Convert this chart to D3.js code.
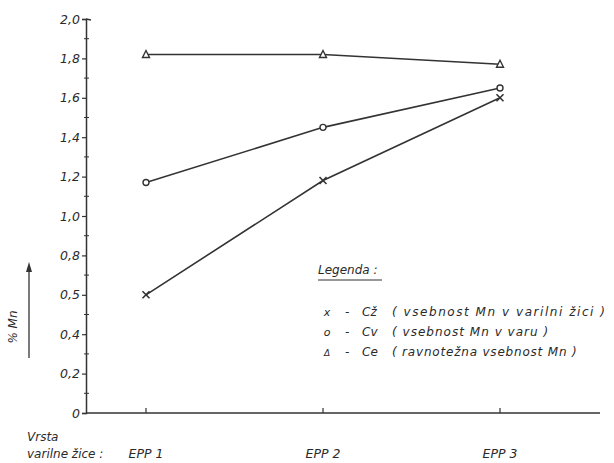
<!DOCTYPE html>
<html><head><meta charset="utf-8">
<script src="https://cdn.jsdelivr.net/npm/d3@7"></script>
<style>body{margin:0;background:#fff}svg text{font-family:"DejaVu Sans",sans-serif;font-style:italic;fill:#2a2a2a}</style>
</head><body><svg id="c" width="614" height="463"></svg>
<script>
const categories = ["EPP1","EPP2","EPP3"];
const categoryLabels = ["EPP 1","EPP 2","EPP 3"];
const cz = [0.60, 1.18, 1.60];
const cv = [1.17, 1.45, 1.65];
const ce = [1.82, 1.82, 1.77];
const yTicks = [0,0.2,0.4,0.6,0.8,1.0,1.2,1.4,1.6,1.8,2.0];
const yTickLabels = ["0","0,2","0,4","0,5","0,8","1,0","1,2","1,4","1,6","1,8","2,0"];

const svg = d3.select("#c");
const col = "#333";
const x = d3.scalePoint().domain(categories).range([146,500]);
const y = d3.scaleLinear().domain([0,2]).range([413,19]);

// y axis
const yAxis = d3.axisLeft(y).tickValues(yTicks).tickSize(4)
  .tickFormat((d,i)=>yTickLabels[i]);
const ga = svg.append("g").attr("transform","translate(86,0)").call(yAxis);
ga.select(".domain").attr("stroke",col).attr("stroke-width",1.5);
ga.selectAll(".tick line").attr("stroke",col).attr("stroke-width",1.2);
ga.selectAll(".tick text").attr("font-size",12.5).attr("x",-6).attr("fill","#2a2a2a").style("font-family",null);
// minor ticks
svg.append("g").selectAll("line").data(d3.range(0.1,2,0.2)).join("line")
  .attr("x1",84).attr("x2",89).attr("y1",d=>y(d)).attr("y2",d=>y(d))
  .attr("stroke",col).attr("stroke-width",1);
svg.append("line").attr("x1",86).attr("x2",91).attr("y1",y(2)).attr("y2",y(2)+1).attr("stroke",col).attr("stroke-width",1.3);

// x axis
svg.append("line").attr("x1",86).attr("x2",600).attr("y1",413).attr("y2",413).attr("stroke",col).attr("stroke-width",1.5);
svg.append("g").selectAll("line").data(categories).join("line")
  .attr("x1",d=>x(d)).attr("x2",d=>x(d)).attr("y1",408).attr("y2",413)
  .attr("stroke",col).attr("stroke-width",1.2);
svg.append("g").selectAll("text").data(categories).join("text")
  .attr("x",d=>x(d)).attr("y",458).attr("text-anchor","middle").attr("font-size",12.5)
  .text((d,i)=>categoryLabels[i]);
svg.append("text").attr("x",27).attr("y",441).attr("font-size",12).text("Vrsta");
svg.append("text").attr("x",27).attr("y",458).attr("font-size",12).text("varilne žice :");

// y label arrow
svg.append("line").attr("x1",29).attr("x2",29).attr("y1",358).attr("y2",270).attr("stroke",col).attr("stroke-width",1.3);
svg.append("path").attr("d","M26,272 L29,262 L32,272 Z").attr("fill",col);
svg.append("text").attr("transform","translate(17,327) rotate(-90)").attr("text-anchor","middle").attr("font-size",12).text("% Mn");

// lines
const line = d3.line().x((d,i)=>x(categories[i])).y(d=>y(d));
[ce,cv,cz].forEach(s=>{
  svg.append("path").datum(s).attr("d",line).attr("fill","none").attr("stroke",col).attr("stroke-width",1.6);
});
// markers
svg.append("g").selectAll("path").data(ce).join("path")
  .attr("d",(d,i)=>{const cx=x(categories[i]),cy=y(d);return `M${cx-3.5},${cy+3} L${cx},${cy-4} L${cx+3.5},${cy+3} Z`;})
  .attr("fill","#fff").attr("stroke",col).attr("stroke-width",1.4);
svg.append("g").selectAll("circle").data(cv).join("circle")
  .attr("cx",(d,i)=>x(categories[i])).attr("cy",d=>y(d)).attr("r",3)
  .attr("fill","#fff").attr("stroke",col).attr("stroke-width",1.4);
svg.append("g").selectAll("path").data(cz).join("path")
  .attr("d",(d,i)=>{const cx=x(categories[i]),cy=y(d);return `M${cx-3.5},${cy-3.5} L${cx+3.5},${cy+3.5} M${cx-3.5},${cy+3.5} L${cx+3.5},${cy-3.5}`;})
  .attr("stroke",col).attr("stroke-width",1.6);

// legend
const lg = svg.append("g").attr("font-size",12);
lg.append("text").attr("x",318).attr("y",274).text("Legenda :");
lg.append("line").attr("x1",318).attr("x2",382).attr("y1",280).attr("y2",280).attr("stroke",col).attr("stroke-width",1.2);
const legendRows = [
  {m:"x", c:"Cž", t:"( vsebnost Mn v varilni žici )"},
  {m:"o", c:"Cv", t:"( vsebnost Mn v varu )"},
  {m:"Δ", c:"Ce", t:"( ravnotežna vsebnost Mn )"}
];
legendRows.forEach((r,i)=>{
  const yy = 316 + i*20;
  lg.append("text").attr("x",327).attr("y",yy).attr("text-anchor","middle").attr("font-size",r.m==="Δ"?9:11).text(r.m);
  lg.append("text").attr("x",345).attr("y",yy).text("-");
  lg.append("text").attr("x",362).attr("y",yy).text(r.c);
  lg.append("text").attr("x",392).attr("y",yy).attr("textLength",r.t.length*7.1).text(r.t);
});
</script></body></html>
